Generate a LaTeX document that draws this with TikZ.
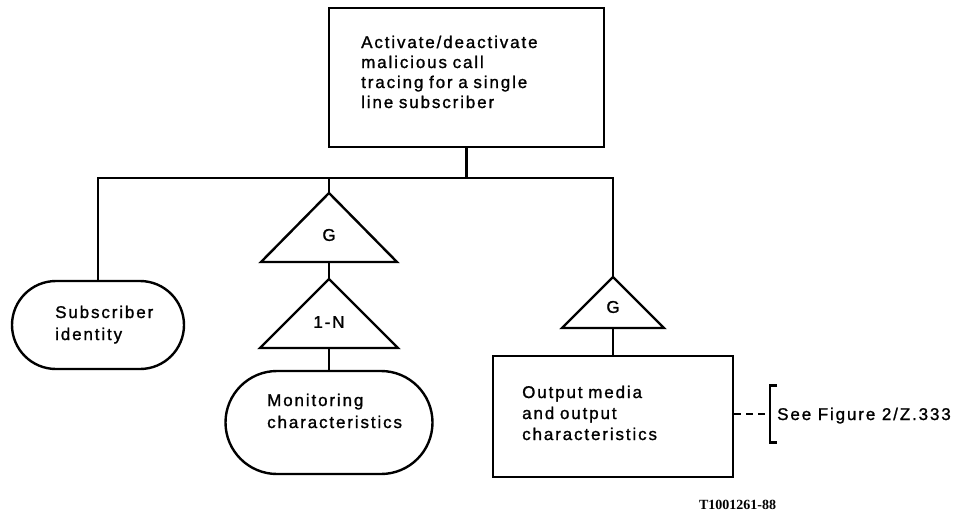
\documentclass[tikz,border=0pt]{standalone}
\usepackage{fontspec}
\setmainfont{Liberation Sans}[LetterSpace=11, FakeBold=1.2]
\newfontfamily\codefont{Liberation Serif}
\usetikzlibrary{shapes.misc}
\begin{document}
\begin{tikzpicture}[x=1pt,y=-1pt,
  ln/.style={line width=2.4pt, line join=miter},
  boxnode/.style={draw, line width=2.4pt, rectangle, inner sep=0pt},
  pill/.style={draw, line width=2.4pt, rounded rectangle, inner sep=0pt},
  tri/.style={draw, line width=2.4pt, line join=miter},
  txt/.style={inner sep=0pt, anchor=base west, align=left, text width=#1,
    font=\fontsize{17}{21}\selectfont},
  lbl/.style={inner sep=0pt, font=\fontsize{17}{21}\selectfont}
]
\useasboundingbox (0,0) rectangle (961,515);

% boxes
\node[boxnode, minimum width=275pt, minimum height=139pt] (top) at (466.5,77.5) {};
\node[pill, minimum width=172pt, minimum height=88pt] (sub) at (98,325) {};
\node[pill, minimum width=207pt, minimum height=103pt] (mon) at (329,422.5) {};
\node[boxnode, minimum width=240pt, minimum height=121pt] (out) at (613,416.5) {};

% texts
\node[txt=230pt, font=\fontsize{17}{20}\selectfont] (toptxt) at (361,48) {Activate/deactivate\\malicious call\\tracing for a single\\line subscriber};
\node[txt=140pt, font=\fontsize{17}{22}\selectfont] (subtxt) at (55,318) {Subscriber\\identity};
\node[txt=170pt, font=\fontsize{17}{22}\selectfont] (montxt) at (267,406) {Monitoring\\characteristics};
\node[txt=200pt] (outtxt) at (522,398) {Output media\\and output\\characteristics};

% triangles
\coordinate (g1t) at (329,193);
\coordinate (g1b) at (329,262);
\draw[tri] (g1t) -- (261,262) -- (397,262) -- cycle;
\node[lbl] (g1l) at (329,235) {G};

\coordinate (n1t) at (329,279);
\coordinate (n1b) at (329,348);
\draw[tri] (n1t) -- (260,348) -- (398,348) -- cycle;
\node[lbl] (n1l) at (329,322) {1-N};

\coordinate (g2t) at (613,277);
\coordinate (g2b) at (613,328);
\draw[tri] (g2t) -- (562,328) -- (664,328) -- cycle;
\node[lbl] (g2l) at (613,307) {G};

% connectors
\coordinate (barL) at (98,178);
\coordinate (barR) at (613,178);
\coordinate (barT) at (top.south |- barL);
\coordinate (barM) at (329,178);
\draw[ln] (top.south) -- (barT);
\draw[ln] (sub.north) -- (barL) -- (barR) -- (g2t);
\draw[ln] (barM) -- (g1t);
\draw[ln] (g1b) -- (n1t);
\draw[ln] (n1b) -- (mon.north);
\draw[ln] (g2b) -- (out.north);

% reference
\coordinate (br) at (770,414);
\draw[ln, dash pattern=on 7pt off 5pt] (out.east |- br) -- (br);
\draw[ln] ([xshift=7pt,yshift=28.5pt]br) -- ([yshift=28.5pt]br) -- ([yshift=-28.5pt]br) -- ([xshift=7pt,yshift=-28.5pt]br);
\node[inner sep=0pt, anchor=base west, font=\fontsize{17}{21}\selectfont] (see) at (777,420) {See Figure 2/Z.333};

\node[inner sep=0pt, font=\codefont\bfseries\fontsize{14}{16}\selectfont] (code) at (737.5,505) {T1001261-88};
\end{tikzpicture}
\end{document}
